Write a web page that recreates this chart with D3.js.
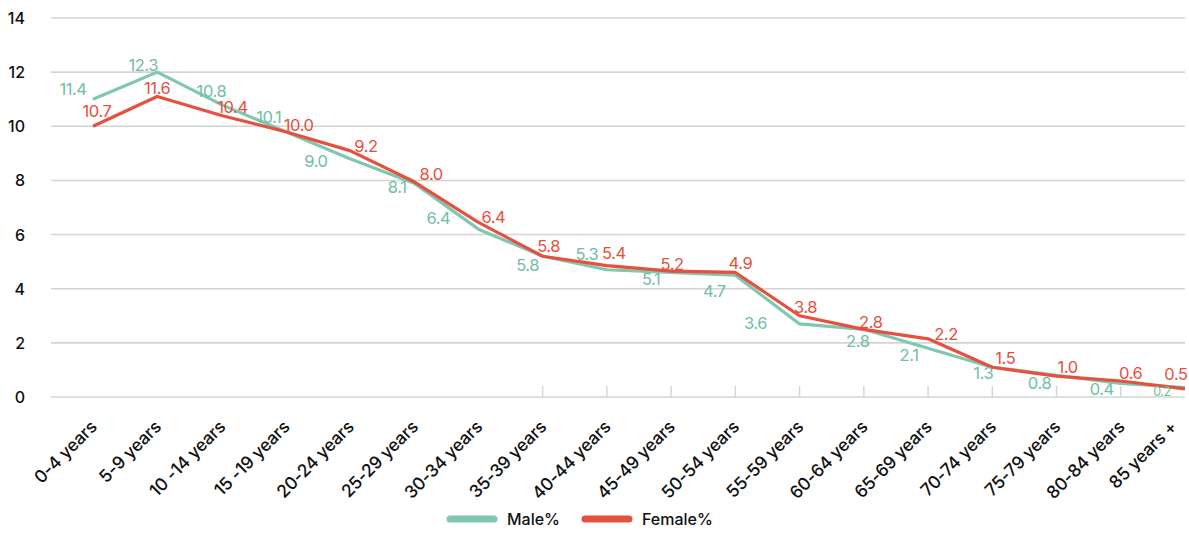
<!DOCTYPE html>
<html>
<head>
<meta charset="utf-8">
<script src="https://cdn.jsdelivr.net/npm/d3@7"></script>
<style>
  html, body { margin: 0; padding: 0; background: #ffffff; }
  svg { display: block; font-family: Inter, "Noto Sans", sans-serif; }
</style>
</head>
<body>
<svg id="chart" width="1189" height="533"></svg>
<script>
// ---------- DATA ----------
const categories = ["0-4 years", "5-9 years", "10 -14 years", "15 -19 years", "20-24 years",
  "25-29 years", "30-34 years", "35-39 years", "40-44 years", "45-49 years", "50-54 years",
  "55-59 years", "60-64 years", "65-69 years", "70-74 years", "75-79 years", "80-84 years", "85 years +"];

// printed value labels
const maleLabels   = [11.4, 12.3, 10.8, 10.1, 9.0, 8.1, 6.4, 5.8, 5.3, 5.1, 4.7, 3.6, 2.8, 2.1, 1.3, 0.8, 0.4, 0.2];
const femaleLabels = [10.7, 11.6, 10.4, 10.0, 9.2, 8.0, 6.4, 5.8, 5.4, 5.2, 4.9, 3.8, 2.8, 2.2, 1.5, 1.0, 0.6, 0.5];

// plotted line values (as drawn in the picture)
const maleLine   = [11.0, 12.0, 10.8, 9.8, 8.8, 7.9, 6.2, 5.2, 4.7, 4.6, 4.5, 2.7, 2.5, 1.8, 1.1, 0.8, 0.5, 0.35];
const femaleLine = [10.0, 11.1, 10.4, 9.8, 9.1, 7.95, 6.45, 5.2, 4.85, 4.65, 4.6, 3.0, 2.5, 2.15, 1.1, 0.77, 0.59, 0.3];

const yTicks = [0, 2, 4, 6, 8, 10, 12, 14];
const seriesNames = ["Male%", "Female%"];

// ---------- LAYOUT ----------
const MALE = "#80c7b1", FEMALE = "#e6513f";
const MALE_TXT = "#6fbea4", FEMALE_TXT = "#e4503d";
const svg = d3.select("#chart");

const x = d3.scalePoint().domain(categories).range([93, 1185]);
const y = d3.scaleLinear().domain([0, 14]).range([397, 18]);
const gridLeft = 51, gridRight = 1185;

// gridlines
svg.append("g").selectAll("line").data(yTicks).join("line")
  .attr("x1", gridLeft).attr("x2", gridRight)
  .attr("y1", d => y(d)).attr("y2", d => y(d))
  .attr("stroke", "#d4d4d4").attr("stroke-width", 1.6);

// y tick labels
svg.append("g").selectAll("text").data(yTicks).join("text")
  .attr("x", 25).attr("y", d => y(d))
  .attr("text-anchor", "end").attr("dominant-baseline", "central")
  .attr("font-size", 16).attr("font-weight", 500).attr("fill", "#111")
  .text(d => d);

// small upward ticks on the baseline (only from 35-39 years on)
svg.append("g").selectAll("line").data(categories.slice(7, 17)).join("line")
  .attr("x1", d => x(d)).attr("x2", d => x(d))
  .attr("y1", y(0)).attr("y2", y(0) - 11)
  .attr("stroke", "#d4d4d4").attr("stroke-width", 1.4);

// x labels
svg.append("g").selectAll("text").data(categories).join("text")
  .attr("transform", d => `translate(${Math.min(x(d) + 5, 1178)},${428}) rotate(-45)`)
  .attr("text-anchor", "end")
  .attr("font-size", 17.5).attr("font-weight", 500).attr("fill", "#111")
  .attr("letter-spacing", -0.2)
  .text(d => d);

// lines
const line = d3.line().x((d, i) => x(categories[i])).y(d => y(d));
svg.append("path").datum(maleLine).attr("d", line)
  .attr("fill", "none").attr("stroke", MALE).attr("stroke-width", 3.2).attr("stroke-linejoin", "round");
svg.append("path").datum(femaleLine).attr("d", line)
  .attr("fill", "none").attr("stroke", FEMALE).attr("stroke-width", 3.2).attr("stroke-linejoin", "round");

// label nudges (pixel offsets from each line point)
const maleNudge = [[-20,-10],[-14,-7],[-10,-14],[-17,-15],[-34,2],[-17,4],[-40,-11],[-15,9],[-20,-16],
  [-20,7],[-21,16],[-44,-1],[-6,12],[-19,7],[-9,6],[-17,8],[-19,6],[-23,4]];
const femaleNudge = [[4,-15],[0,-9],[11,-8],[13,-7],[16,-5],[17,-8],[15,-5],[6,-10],[7,-13],
  [1,-7],[5,-9],[6,-9],[7,-7],[18,-5],[13,-9],[11,-9],[10,-8],[-9,-15]];

svg.append("g").selectAll("text").data(maleLabels).join("text")
  .attr("x", (d, i) => x(categories[i]) + maleNudge[i][0])
  .attr("y", (d, i) => y(maleLine[i]) + maleNudge[i][1])
  .attr("text-anchor", "middle").attr("dominant-baseline", "central")
  .attr("font-size", (d, i) => i === 17 ? 12.5 : 16.5).attr("fill", MALE_TXT)
  .attr("letter-spacing", -0.4)
  .text(d => d.toFixed(1));

svg.append("g").selectAll("text").data(femaleLabels).join("text")
  .attr("x", (d, i) => x(categories[i]) + femaleNudge[i][0])
  .attr("y", (d, i) => y(femaleLine[i]) + femaleNudge[i][1])
  .attr("text-anchor", "middle").attr("dominant-baseline", "central")
  .attr("font-size", 16.5).attr("fill", FEMALE_TXT)
  .attr("letter-spacing", -0.4)
  .text(d => d.toFixed(1));

// legend
const legend = svg.append("g");
const legItems = [{name: seriesNames[0], c: MALE, x: 450}, {name: seriesNames[1], c: FEMALE, x: 585}];
legItems.forEach(it => {
  legend.append("line").attr("x1", it.x).attr("x2", it.x + 44).attr("y1", 519).attr("y2", 519)
    .attr("stroke", it.c).attr("stroke-width", 7).attr("stroke-linecap", "round");
  legend.append("text").attr("x", it.x + 57).attr("y", 519).attr("dominant-baseline", "central")
    .attr("font-size", 16).attr("font-weight", 500).attr("fill", "#111").text(it.name);
});
</script>
</body>
</html>
